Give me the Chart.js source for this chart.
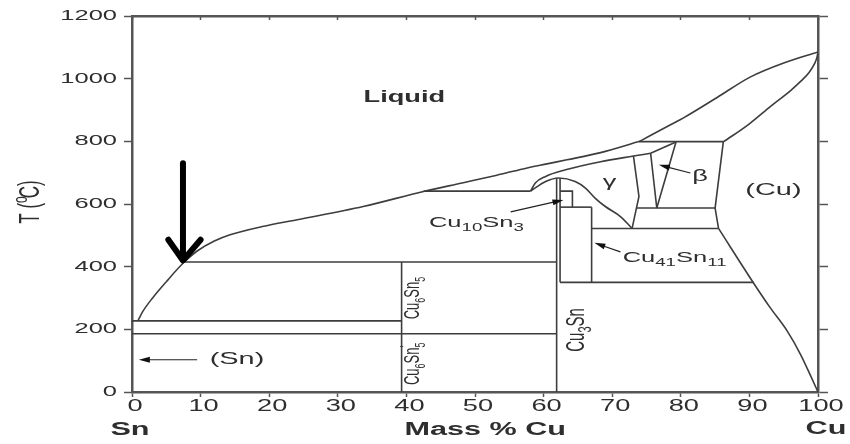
<!DOCTYPE html>
<html>
<head>
<meta charset="utf-8">
<script src="https://cdn.jsdelivr.net/npm/chart.js@4.4.1/dist/chart.umd.min.js"></script>
<style>
  body { margin: 0; background: #fff; }
  canvas { display: block; }
</style>
</head>
<body>
<canvas id="chart" width="850" height="444"></canvas>
<script>
// tick labels
const xTicks = [0, 10, 20, 30, 40, 50, 60, 70, 80, 90, 100];
const yTicks = [0, 200, 400, 600, 800, 1000, 1200];

// phase boundaries as [mass % Cu, T (C)]
const liquidusLow = [[0.9, 229], [1.6, 258], [3.0, 300], [5.0, 352], [7.4, 410], [9.5, 450], [12, 482],
  [14.3, 502], [19, 528], [24.1, 550], [33.7, 592], [42.5, 640], [48.3, 668], [53.2, 692], [57, 712],
  [60.5, 728], [63.4, 741], [68.3, 764], [74, 800]];
const liquidusHigh = [[74, 800], [78.5, 853], [80.4, 875], [85.3, 940], [90.1, 1005], [95, 1050], [100, 1085]];
const solidusCu = [[86.2, 798], [90, 856], [93, 910], [96, 962], [97.5, 992], [98.7, 1020], [99.5, 1048],
  [99.85, 1068], [100, 1085]];
const gammaUpper = [[58.1, 641], [58.8, 667], [60.3, 688], [63.2, 709], [68.3, 735], [73.1, 753], [75.6, 762]];
const gammaLower = [[58.1, 641], [60.3, 672], [62.2, 683], [64.6, 672], [66.1, 651], [67.5, 619],
  [69.0, 592], [71.2, 560], [72.9, 522]];
const cuSolvus = [[85.5, 522], [90.6, 348], [93, 270], [95.5, 195], [97.5, 118], [99, 48], [100, 0]];

const line227 = [[0, 227], [39.3, 227]];
const line186 = [[0, 186], [61.9, 186]];
const line415 = [[7.4, 415], [61.9, 415]];
const line640 = [[42.5, 641], [58.1, 641]];
const line350 = [[62.4, 350], [90.6, 350]];
const line520 = [[67.0, 522], [85.5, 522]];
const line586 = [[73.6, 587], [85.0, 587]];
const line798 = [[73.9, 799], [86.2, 799]];
const cu6sn5 = [[39.3, 0], [39.3, 415]];
const cu3snLeft = [[61.9, 0], [61.9, 681]];
const cu3snRight = [[62.4, 350], [62.4, 682]];
const zeta = [[62.4, 641], [64.2, 641], [64.2, 590]];
const zetaBottom = [[62.4, 590], [67.0, 590]];
const deltaRight = [[67.0, 590], [67.0, 350]];
const betaTop = [[75.6, 762], [79.3, 798]];
const gammaRight = [[73.1, 753], [73.9, 624], [72.9, 522]];
const betaLeft = [[75.6, 762], [76.5, 587]];
const betaRight = [[79.3, 798], [76.5, 587]];
const cuLeft = [[86.2, 799], [85.0, 587], [85.5, 522]];

const curves = [liquidusLow, liquidusHigh, solidusCu, gammaUpper, gammaLower, cuSolvus];
const straights = [line227, line186, line415, line640, line350, line520, line586, line798, cu6sn5,
  cu3snLeft, cu3snRight, zeta, zetaBottom, deltaRight, betaTop, gammaRight, betaLeft, betaRight, cuLeft];

const LINE = "#3d3d3d";
const TEXT = "#2e2e2e";
const FONT = '"Liberation Sans", Arial, sans-serif';
const STRETCH = 1.7;

function toPoints(arr) {
  return arr.map(([x, y]) => ({ x, y }));
}

const datasets = [
  ...curves.map((c) => ({ data: toPoints(c), cubicInterpolationMode: "monotone" })),
  ...straights.map((s) => ({ data: toPoints(s), tension: 0 })),
].map((d) => ({
  ...d,
  showLine: true,
  pointRadius: 0,
  borderColor: LINE,
  borderWidth: 1.6,
  fill: false,
  xAxisID: "x",
  yAxisID: "y",
}));

// text: parts are [string, kind], kind 0 normal, 1 subscript, 2 superscript (no advance)
function drawRich(ctx, parts, x, y, size, opts = {}) {
  const { rotate = false, bold = false, align = "center" } = opts;
  const fontFor = (k) => `${bold ? "bold " : ""}${k ? Math.round(size * 0.72) : size}px ${FONT}`;
  ctx.save();
  ctx.translate(x, y);
  ctx.scale(STRETCH, 1);
  if (rotate) ctx.rotate(-Math.PI / 2);
  ctx.fillStyle = TEXT;
  ctx.textBaseline = "middle";
  ctx.textAlign = "left";
  let w = 0;
  parts.forEach(([t, k]) => {
    ctx.font = fontFor(k);
    if (k !== 2) w += ctx.measureText(t).width;
  });
  let cx = align === "center" ? -w / 2 : align === "right" ? -w : 0;
  parts.forEach(([t, k]) => {
    ctx.font = fontFor(k);
    const dy = k === 1 ? size * 0.32 : k === 2 ? -size * 0.35 : 0;
    ctx.fillText(t, cx, dy);
    if (k !== 2) cx += ctx.measureText(t).width;
  });
  ctx.restore();
}

function arrow(ctx, x1, y1, x2, y2) {
  const a = Math.atan2(y2 - y1, x2 - x1);
  ctx.save();
  ctx.strokeStyle = "#222";
  ctx.fillStyle = "#111";
  ctx.lineWidth = 1.2;
  ctx.beginPath();
  ctx.moveTo(x1, y1);
  ctx.lineTo(x2 - 8 * Math.cos(a), y2 - 8 * Math.sin(a));
  ctx.stroke();
  ctx.beginPath();
  ctx.moveTo(x2, y2);
  ctx.lineTo(x2 - 11 * Math.cos(a) + 3 * Math.sin(a), y2 - 11 * Math.sin(a) - 3 * Math.cos(a));
  ctx.lineTo(x2 - 11 * Math.cos(a) - 3 * Math.sin(a), y2 - 11 * Math.sin(a) + 3 * Math.cos(a));
  ctx.closePath();
  ctx.fill();
  ctx.restore();
}

const labelsPlugin = {
  id: "labels",
  afterDraw(chart) {
    const ctx = chart.ctx;
    const xs = chart.scales.x;
    const ys = chart.scales.y;
    const px = (v) => xs.getPixelForValue(v);
    const py = (v) => ys.getPixelForValue(v);

    // tick labels
    xTicks.forEach((v) => drawRich(ctx, [[String(v), 0]], px(v) + 3, 407, 16));
    yTicks.forEach((v) => drawRich(ctx, [[String(v), 0]], 117, py(v), 15, { align: "right" }));

    // axis titles
    drawRich(ctx, [["Sn", 0]], 130, 430, 18, { bold: true });
    drawRich(ctx, [["Mass % Cu", 0]], px(51.5), 430, 18, { bold: true });
    drawRich(ctx, [["Cu", 0]], 826, 429, 18, { bold: true });
    drawRich(ctx, [["T (", 0], ["o", 2], [" ", 0], ["C)", 0]], 31, 202, 17, { rotate: true });

    // phase labels
    drawRich(ctx, [["Liquid", 0]], px(39.7), py(939), 16, { bold: true });
    drawRich(ctx, [["\u03b3", 0]], px(69.6), py(668), 16);
    drawRich(ctx, [["\u03b2", 0]], px(82.8), py(686), 16);
    drawRich(ctx, [["(Cu)", 0]], px(93.5), py(645), 17);
    drawRich(ctx, [["(Sn)", 0]], px(15.3), py(103), 17);
    drawRich(ctx, [["Cu", 0], ["10", 1], ["Sn", 0], ["3", 1]], px(50.2), py(540), 15);
    drawRich(ctx, [["Cu", 0], ["41", 1], ["Sn", 0], ["11", 1]], px(79.1), py(428), 15);
    drawRich(ctx, [["Cu", 0], ["6", 1], ["Sn", 0], ["5", 1]], px(41.0), py(300), 13, { rotate: true });
    drawRich(ctx, [["Cu", 0], ["6", 1], ["Sn", 0], ["'", 2], ["5", 1]], px(41.0), py(90), 13, { rotate: true });
    drawRich(ctx, [["Cu", 0], ["3", 1], ["Sn", 0]], px(64.9), py(198), 15, { rotate: true });

    // pointer arrows
    arrow(ctx, px(9.5), py(103), px(1.0), py(103));
    arrow(ctx, px(55.2), py(575), px(62.9), py(613));
    arrow(ctx, px(71.2), py(447), px(67.4), py(476));
    arrow(ctx, px(81.4), py(699), px(76.8), py(725));

    // big black arrow at the eutectic
    ctx.save();
    ctx.strokeStyle = "#000";
    ctx.lineWidth = 6;
    ctx.lineCap = "round";
    ctx.lineJoin = "round";
    ctx.beginPath();
    ctx.moveTo(px(7.43), py(730));
    ctx.lineTo(px(7.43), py(425));
    ctx.stroke();
    ctx.beginPath();
    ctx.moveTo(px(5.3), py(486));
    ctx.lineTo(px(7.43), py(420));
    ctx.lineTo(px(10.0), py(486));
    ctx.stroke();
    ctx.restore();
  },
};

const axisBase = {
  type: "linear",
  ticks: { display: false },
  border: { display: true, color: "#555", width: 2.5 },
};

new Chart(document.getElementById("chart"), {
  type: "scatter",
  data: { datasets },
  options: {
    responsive: false,
    animation: false,
    devicePixelRatio: 1,
    layout: { padding: 0 },
    plugins: { legend: { display: false }, tooltip: { enabled: false } },
    scales: {
      x: {
        ...axisBase, position: "bottom", min: 0, max: 100,
        ticks: { display: false, stepSize: 10 },
        grid: { drawOnChartArea: false, tickLength: 5, tickColor: "#555", tickWidth: 1.5 },
        afterFit: (s) => { s.height = 52; },
      },
      xTop: {
        ...axisBase, axis: "x", position: "top", min: 0, max: 100,
        ticks: { display: false, stepSize: 10 },
        grid: { drawOnChartArea: false, tickLength: -4, tickColor: "#555", tickWidth: 1.5 },
        afterFit: (s) => { s.height = 16; },
      },
      y: {
        ...axisBase, position: "left", min: 0, max: 1200,
        ticks: { display: false, stepSize: 200 },
        grid: { drawOnChartArea: false, tickLength: 8, tickColor: "#555", tickWidth: 1.5 },
        afterFit: (s) => { s.width = 132; },
      },
      yRight: {
        ...axisBase, axis: "y", position: "right", min: 0, max: 1200,
        ticks: { display: false, stepSize: 200 },
        grid: { drawOnChartArea: false, tickLength: 10, tickColor: "#555", tickWidth: 1.5 },
        afterFit: (s) => { s.width = 32; },
      },
    },
  },
  plugins: [labelsPlugin],
});
</script>
</body>
</html>
